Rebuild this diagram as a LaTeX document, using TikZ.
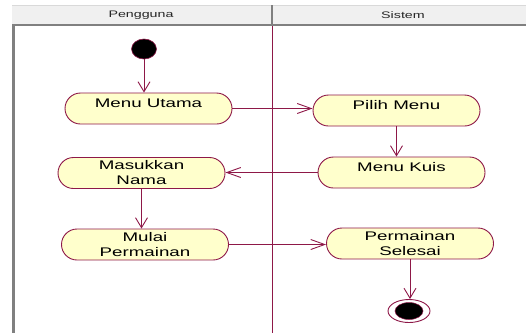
\documentclass[tikz,border=0pt]{standalone}
\usepackage{fontspec}
\usetikzlibrary{shapes.misc,shapes.geometric,arrows.meta}
\newfontfamily\nodefont{Liberation Sans}[FakeStretch=1.5]
\newfontfamily\headfont{Liberation Sans}[FakeStretch=1.5]
\definecolor{umlline}{HTML}{8E1848}
\definecolor{umlfill}{HTML}{FFFFCC}
\definecolor{hdrfill}{HTML}{F0F0F0}
\definecolor{hdrline}{HTML}{808080}
\tikzset{
  act/.style={rounded rectangle, draw=umlline, fill=umlfill, line width=0.9pt,
    minimum width=167pt, minimum height=31pt, inner sep=0pt, align=center,
    font=\nodefont\fontsize{12.5}{15}\selectfont},
  oneline/.style={text height=6pt, text depth=9pt},
  flow/.style={draw=umlline, line width=0.9pt},
  harrow/.style={flow, -{Straight Barb[length=14pt,width=10pt,line width=0.9pt]}},
  varrow/.style={flow, -{Straight Barb[length=10pt,width=12pt,line width=0.9pt]}},
  lanehead/.style={font=\headfont\fontsize{9.5}{11}\selectfont, text=black!85, inner sep=0pt}
}
\begin{document}
\begin{tikzpicture}[x=1pt,y=-1pt]
\useasboundingbox (0,0) rectangle (526,333);
% swimlane header
\fill[hdrfill] (12,5) rectangle (526,25);
\draw[black!15, line width=0.8pt] (12,5) -- (526,5);
\draw[hdrline, line width=2pt] (12,25) -- (526,25);
\draw[hdrline, line width=2pt] (272,5) -- (272,25);
\draw[hdrline, line width=3pt] (13.5,25) -- (13.5,333);
\draw[umlline, line width=1pt] (272,26) -- (272,333);
\node[lanehead] (hp) at (141,15) {Pengguna};
\node[lanehead] (hs) at (403,15) {Sistem};
% start
\node[ellipse, fill=black, draw=umlline, line width=0.6pt, minimum width=25pt, minimum height=20pt, inner sep=0pt] (start) at (144,49) {};
\node[act, oneline] (mu) at (148.5,108.5) {Menu Utama};
\node[act, oneline] (pm) at (396.5,110.5) {Pilih Menu};
\node[act, oneline] (mk) at (401.5,172.5) {Menu Kuis};
\node[act] (mn) at (141.5,173) {Masukkan\\Nama};
\node[act] (mp) at (145,244.5) {Mulai\\Permainan};
\node[act] (ps) at (410,243.5) {Permainan\\Selesai};
% end
\node[ellipse, draw=umlline, line width=0.9pt, fill=white, minimum width=42pt, minimum height=23pt, inner sep=0pt] (end) at (409,311) {};
\node[ellipse, fill=black, draw=umlline, line width=0.5pt, minimum width=28pt, minimum height=17pt, inner sep=0pt] (endin) at (end.center) {};
% flows
\draw[varrow] (start.south) -- (start.south |- mu.north);
\draw[harrow] (mu.east) -- (mu.east -| pm.west);
\draw[varrow] (pm.south) -- (pm.south |- mk.north);
\draw[harrow] (mk.west) -- (mk.west -| mn.east);
\draw[varrow] (mn.south) -- (mn.south |- mp.north);
\draw[harrow] (mp.east) -- (mp.east -| ps.west);
\draw[varrow] (ps.south) -- (ps.south |- end.north);
\end{tikzpicture}
\end{document}
